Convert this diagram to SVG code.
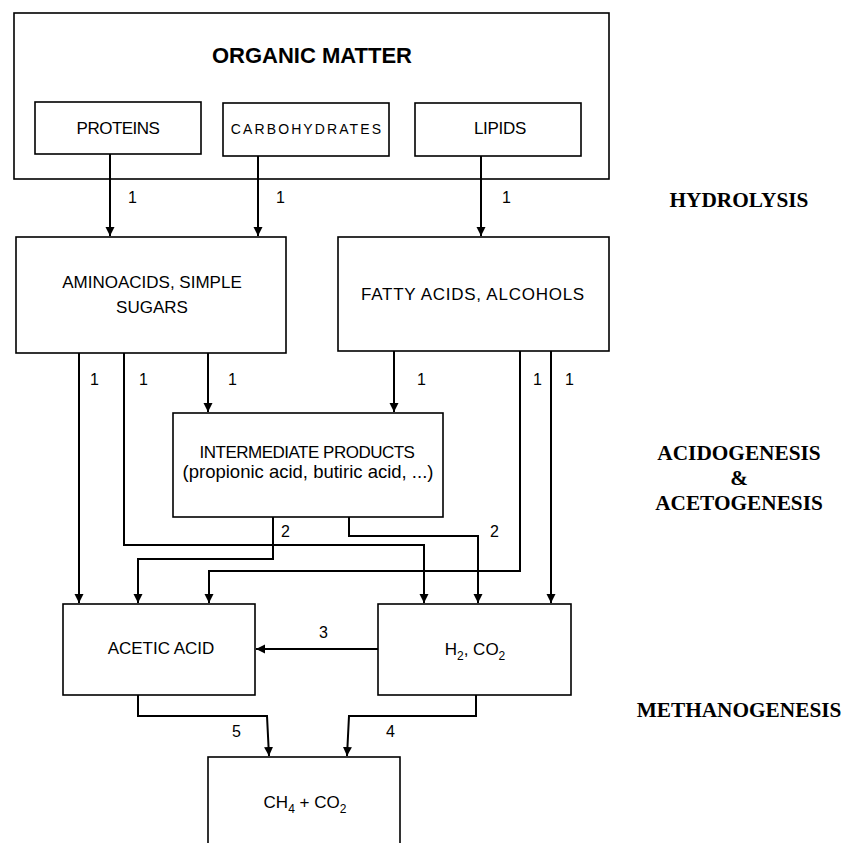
<svg xmlns="http://www.w3.org/2000/svg" width="844" height="843" viewBox="0 0 844 843">
<style>
.box{fill:#fff;stroke:#000;stroke-width:1.6}
.t{font-family:"Liberation Sans",Arial,sans-serif;font-size:17px;fill:#000;text-anchor:middle}
.lbl{font-family:"Liberation Sans",Arial,sans-serif;font-size:16px;fill:#000}
.stage{font-family:"Liberation Serif","Times New Roman",serif;font-weight:bold;font-size:21.3px;fill:#000;text-anchor:middle}
.c{fill:none;stroke:#000;stroke-width:2}
.sub{font-size:12px}
</style>
<defs>
<marker id="ah" markerUnits="userSpaceOnUse" markerWidth="10" markerHeight="10" refX="9" refY="4.5" orient="auto">
<path d="M0,0 L9,4.5 L0,9 z" fill="#000"/>
</marker>
</defs>
<rect width="844" height="843" fill="#fff"/>

<g id="organic-matter">
<rect class="box" x="14" y="13" width="595" height="166"/>
<text x="312" y="63" class="t" style="font-weight:bold;font-size:22px">ORGANIC MATTER</text>
</g>
<g id="proteins">
<rect class="box" x="35" y="102" width="166" height="52"/>
<text x="118" y="134" class="t" style="letter-spacing:-0.5px">PROTEINS</text>
</g>
<g id="carbohydrates">
<rect class="box" x="223" y="103" width="166" height="53"/>
<text x="307" y="134" class="t" style="font-size:14px;letter-spacing:2.1px">CARBOHYDRATES</text>
</g>
<g id="lipids">
<rect class="box" x="415" y="103" width="166" height="53"/>
<text x="500" y="134" class="t" style="letter-spacing:-0.3px">LIPIDS</text>
</g>
<g id="aminoacids">
<rect class="box" x="16" y="237" width="270" height="116"/>
<text x="152" y="288" class="t">AMINOACIDS, SIMPLE</text>
<text x="152" y="313" class="t">SUGARS</text>
</g>
<g id="fatty-acids">
<rect class="box" x="338" y="237" width="271" height="114"/>
<text x="473" y="300" class="t" style="letter-spacing:0.75px">FATTY ACIDS, ALCOHOLS</text>
</g>
<g id="intermediate">
<rect class="box" x="173" y="413" width="270" height="104"/>
<text x="307" y="458" class="t" style="letter-spacing:-0.5px">INTERMEDIATE PRODUCTS</text>
<text x="308" y="478" class="t" style="font-size:18.5px">(propionic acid, butiric acid, ...)</text>
</g>
<g id="acetic-acid">
<rect class="box" x="63" y="604" width="192" height="91"/>
<text x="161" y="654" class="t">ACETIC ACID</text>
</g>
<g id="h2-co2">
<rect class="box" x="378" y="604" width="193" height="91"/>
<text x="475" y="655" class="t">H<tspan dy="5" class="sub">2</tspan><tspan dy="-5">, CO</tspan><tspan dy="5" class="sub">2</tspan></text>
</g>
<g id="ch4-co2">
<rect class="box" x="208" y="757" width="192" height="100"/>
<text x="305" y="808" class="t">CH<tspan dy="5" class="sub">4</tspan><tspan dy="-5"> + CO</tspan><tspan dy="5" class="sub">2</tspan></text>
</g>

<g id="connectors">
<path class="c" marker-end="url(#ah)" d="M110,154 V236"/>
<path class="c" marker-end="url(#ah)" d="M258,156 V236"/>
<path class="c" marker-end="url(#ah)" d="M481,156 V236"/>
<path class="c" marker-end="url(#ah)" d="M79,353 V603"/>
<path class="c" marker-end="url(#ah)" d="M124,353 V545 H424 V603"/>
<path class="c" marker-end="url(#ah)" d="M208,353 V412"/>
<path class="c" marker-end="url(#ah)" d="M394,351 V412"/>
<path class="c" marker-end="url(#ah)" d="M520,351 V571 H209 V603"/>
<path class="c" marker-end="url(#ah)" d="M551,351 V603"/>
<path class="c" marker-end="url(#ah)" d="M273,517 V559 H138 V603"/>
<path class="c" marker-end="url(#ah)" d="M349,517 V536 H478 V603"/>
<path class="c" marker-end="url(#ah)" d="M378,649 H256"/>
<path class="c" marker-end="url(#ah)" d="M138,695 V716 H267 L269,756"/>
<path class="c" marker-end="url(#ah)" d="M476,695 V716 H349 L347,756"/>
</g>

<g id="connector-labels">
<text class="lbl" x="128" y="203">1</text>
<text class="lbl" x="276" y="203">1</text>
<text class="lbl" x="502" y="203">1</text>
<text class="lbl" x="90" y="385">1</text>
<text class="lbl" x="139" y="385">1</text>
<text class="lbl" x="228" y="385">1</text>
<text class="lbl" x="417" y="385">1</text>
<text class="lbl" x="533" y="385">1</text>
<text class="lbl" x="565" y="385">1</text>
<text class="lbl" x="281" y="537">2</text>
<text class="lbl" x="490" y="537">2</text>
<text class="lbl" x="319" y="638">3</text>
<text class="lbl" x="232" y="737">5</text>
<text class="lbl" x="386" y="737">4</text>
</g>

<g id="stages">
<text class="stage" x="739" y="207">HYDROLYSIS</text>
<text class="stage" x="739" y="460">ACIDOGENESIS</text>
<text class="stage" x="739" y="485">&amp;</text>
<text class="stage" x="739" y="510">ACETOGENESIS</text>
<text class="stage" x="739" y="717">METHANOGENESIS</text>
</g>
</svg>
